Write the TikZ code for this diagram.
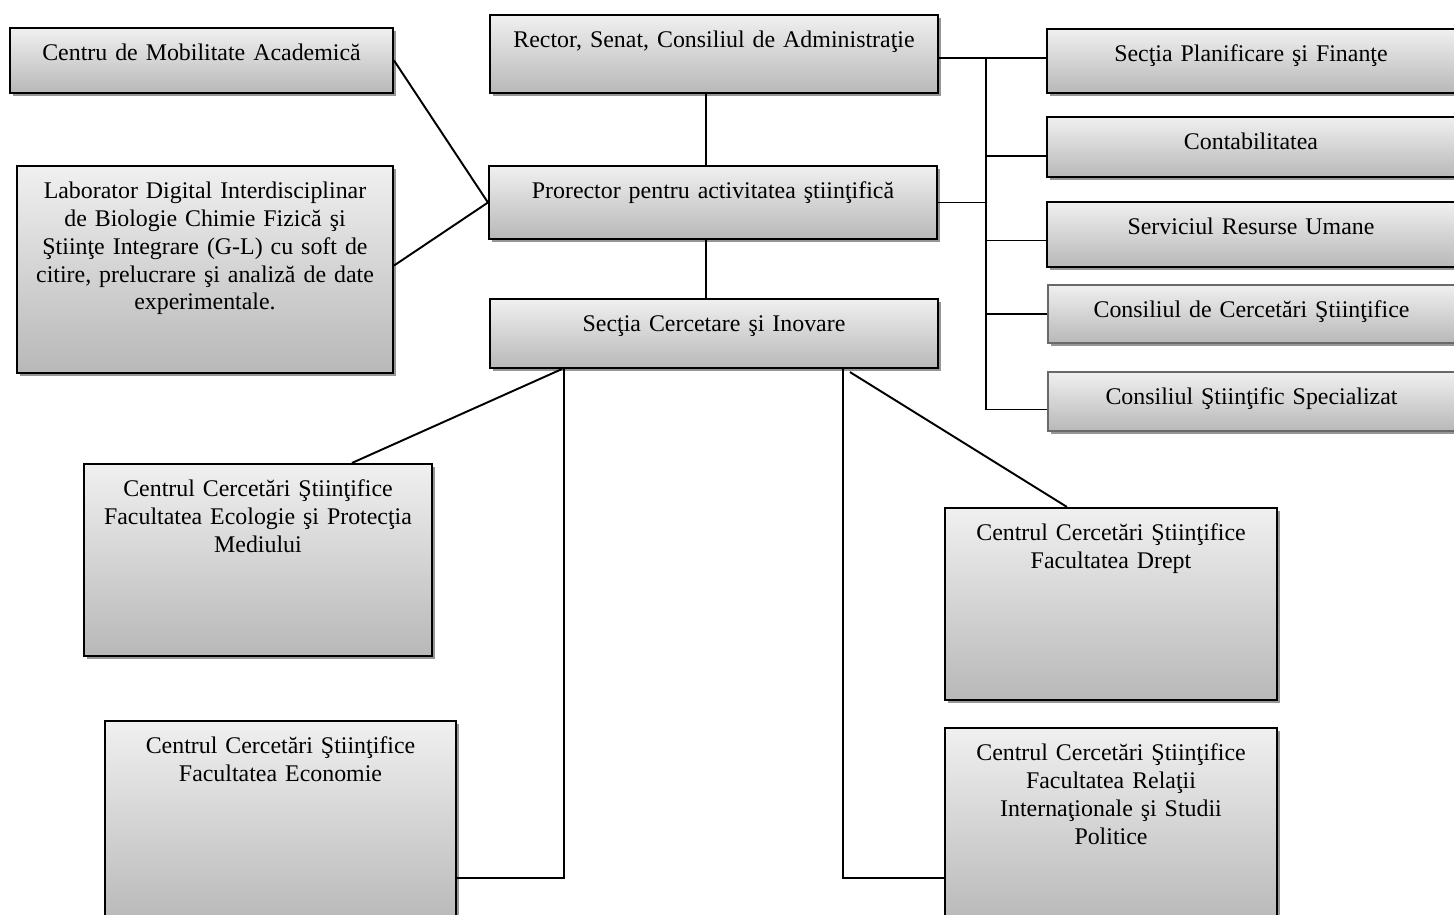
\documentclass[tikz,border=0pt]{standalone}
\usepackage{fontspec}
\setmainfont{Liberation Serif}
\usepackage{tikz}
\usetikzlibrary{positioning, calc, fit, shadows}
\definecolor{BoxTop}{RGB}{240,240,240}
\definecolor{BoxBottom}{RGB}{184,184,184}
\definecolor{ShadowGray}{RGB}{150,150,150}
\definecolor{FrameGray}{RGB}{105,105,105}
\tikzstyle{orgbox} = [draw=black, line width=1.2pt, inner sep=0pt, top color=BoxTop, bottom color=BoxBottom, drop shadow={shadow xshift=0.06cm, shadow yshift=-0.06cm, fill=ShadowGray, opacity=1}]
\tikzstyle{softbox} = [orgbox, draw=FrameGray]
\tikzstyle{lbl} = [anchor=base, yshift=-0.68cm, text width=9cm, align=center, inner sep=0pt, font=\fontsize{13.6}{15.8}\selectfont]
\tikzstyle{link} = [line width=1.1pt, black]

\begin{document}
\begin{tikzpicture}[x=0.02cm, y=-0.02cm]
    \useasboundingbox (0,0) rectangle (1454,914);
    \clip (0,0) rectangle (1454,914);

    % centre column
    \node[orgbox, fit={(490,15) (938,93)}] (rector) {};
    \node[lbl] (rector-t) at (rector.north) {Rector, Senat, Consiliul de Administraţie};
    \node[orgbox, fit={(489,166) (937,239)}] (prorector) {};
    \node[lbl] (prorector-t) at (prorector.north) {Prorector pentru activitatea ştiinţifică};
    \node[orgbox, fit={(490,299) (938,368)}] (sci) {};
    \node[lbl] (sci-t) at (sci.north) {Secţia Cercetare şi Inovare};

    % left
    \node[orgbox, fit={(10,28) (393,93)}] (mobil) {};
    \node[lbl] (mobil-t) at (mobil.north) {Centru de Mobilitate Academică};
    \node[orgbox, fit={(17,166) (393,373)}] (lab) {};
    \node[lbl] (lab-t) at (lab.north) {Laborator Digital Interdisciplinar\\de Biologie Chimie Fizică şi\\Ştiinţe Integrare (G-L) cu soft de\\citire, prelucrare şi analiză de date\\experimentale.};

    % right
    \node[orgbox, fit={(1047,29) (1455,93)}] (plan) {};
    \node[lbl] (plan-t) at (plan.north) {Secţia Planificare şi Finanţe};
    \node[orgbox, fit={(1047,117) (1455,177)}] (contab) {};
    \node[lbl] (contab-t) at (contab.north) {Contabilitatea};
    \node[orgbox, fit={(1047,202) (1455,267)}] (hr) {};
    \node[lbl] (hr-t) at (hr.north) {Serviciul Resurse Umane};
    \node[softbox, fit={(1048,285) (1455,343)}] (ccs) {};
    \node[lbl] (ccs-t) at (ccs.north) {Consiliul de Cercetări Ştiinţifice};
    \node[softbox, fit={(1048,372) (1455,431)}] (css) {};
    \node[lbl] (css-t) at (css.north) {Consiliul Ştiinţific Specializat};

    % research centres
    \node[orgbox, fit={(84,464) (432,656)}] (ecol) {};
    \node[lbl] (ecol-t) at (ecol.north) {Centrul Cercetări Ştiinţifice\\Facultatea Ecologie şi Protecţia\\Mediului};
    \node[orgbox, fit={(105,721) (456,925)}] (econ) {};
    \node[lbl] (econ-t) at (econ.north) {Centrul Cercetări Ştiinţifice\\Facultatea Economie};
    \node[orgbox, fit={(945,508) (1277,700)}] (drept) {};
    \node[lbl] (drept-t) at (drept.north) {Centrul Cercetări Ştiinţifice\\Facultatea Drept};
    \node[orgbox, fit={(945,728) (1277,925)}] (relatii) {};
    \node[lbl] (relatii-t) at (relatii.north) {Centrul Cercetări Ştiinţifice\\Facultatea Relaţii\\Internaţionale şi Studii\\Politice};

    % connectors
    \coordinate (spine) at (706,0);
    \coordinate (bus) at (986,0);
    \draw[link] (rector.south -| spine) -- (prorector.north -| spine);
    \draw[link] (prorector.south -| spine) -- (sci.north -| spine);
    \draw[link] (mobil.east) -- (prorector.west);
    \draw[link] ($(lab.east)+(0,-4)$) -- (prorector.west);

    \coordinate (r-out) at ($(rector.east)+(0,4)$);
    \draw[link] (r-out) -- (r-out -| bus);
    \draw[link] (prorector.east) -- (prorector.east -| bus);
    \foreach \n/\dy in {plan/-3, contab/9, hr/6, ccs/0, css/8} {
        \coordinate (b-\n) at ($(\n.west)+(0,\dy)$);
        \draw[link] (b-\n) -- (b-\n -| bus);
    }
    \draw[link] (r-out -| bus) -- (b-css -| bus);

    \coordinate (econ-in) at ($(econ.north east)+(0,158)$);
    \coordinate (rel-in) at ($(relatii.north west)+(0,151)$);
    \draw[link] ($(sci.south west)+(73,0)$) -- ($(ecol.north west)+(269,0)$);
    \draw[link] ($(sci.south west)+(75,0)$) |- (econ-in);
    \draw[link] ($(sci.south west)+(354,0)$) |- (rel-in);
    \draw[link] ($(sci.south west)+(361,3)$) -- ($(drept.north west)+(123,0)$);
\end{tikzpicture}
\end{document}
